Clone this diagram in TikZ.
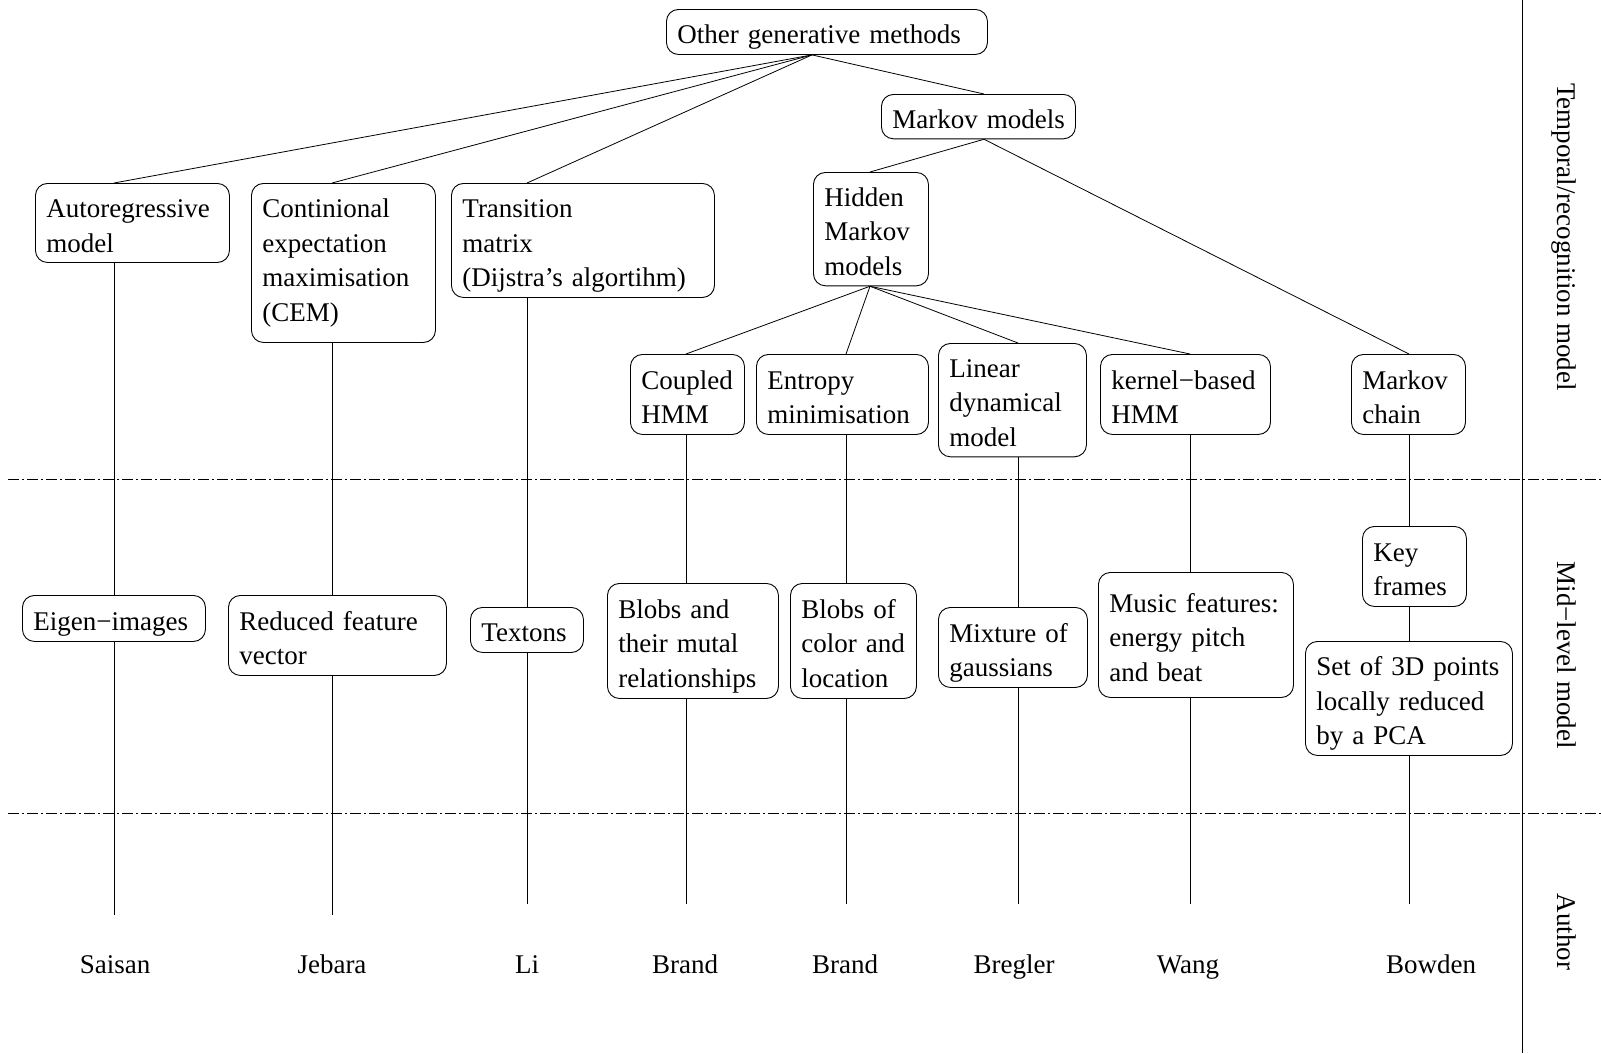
\documentclass[tikz,border=0pt]{standalone}
\usepackage{fontspec}
\setmainfont{Liberation Serif}
% left-aligned stack of lines that never re-wraps, with a little extra room above
\newcommand\boxlines[1]{\begin{tabular}{@{}l@{}}\rule{0pt}{34pt}#1\end{tabular}}
\begin{document}
\begin{tikzpicture}[x=1pt,y=-1pt,
  every node/.style={font=\fontsize{27}{34.5}\selectfont},
  bx/.style 2 args={draw, line width=0.9pt, rounded corners=12pt, anchor=north west,
    inner xsep=11pt, inner ysep=0pt, align=left, text width=#1, minimum height=#2},
  link/.style={line width=0.8pt},
  level/.style={line width=0.8pt, dash pattern=on 11pt off 3pt on 2pt off 3pt},
  author/.style={anchor=base},
  side/.style={rotate=-90, anchor=base}]
\useasboundingbox (0,0) rectangle (1601,1053);

% column positions of the vertical links
\coordinate (gx) at (812,0);
\coordinate (mx) at (984,0);
\coordinate (hx) at (870,0);
\coordinate (c1) at (114,0);
\coordinate (c2) at (332,0);
\coordinate (c3) at (527,0);
\coordinate (c4) at (686,0);
\coordinate (c5) at (846,0);
\coordinate (c6) at (1018,0);
\coordinate (c7) at (1190,0);
\coordinate (c8) at (1409,0);

% level separators and side column rule
\draw[level] (8,479) -- (1601,479);
\draw[level] (8,813) -- (1601,813);
\draw[link] (1522,0) -- (1522,1053);

% temporal / recognition models
\node[bx={299pt}{45pt}] (top) at (666,9) {\boxlines{Other generative methods}};
\node[bx={172pt}{43pt}] (markov) at (881,94) {\boxlines{Markov models}};
\node[bx={172pt}{79pt}] (auto) at (35,183) {\boxlines{Autoregressive\\model}};
\node[bx={162pt}{159pt}] (cem) at (251,183) {\boxlines{Continional\\expectation\\maximisation\\(CEM)\rule[-21pt]{0pt}{0pt}}};
\node[bx={241pt}{114pt}] (trans) at (451,183) {\boxlines{Transition\\matrix\\(Dijstra's algortihm)}};
\node[bx={93pt}{113pt}] (hmm) at (813,172) {\boxlines{Hidden\\Markov\\models}};
\node[bx={92pt}{80pt}] (coupled) at (630,354) {\boxlines{Coupled\\HMM}};
\node[bx={150pt}{80pt}] (entropy) at (756,354) {\boxlines{Entropy\\minimisation}};
\node[bx={126pt}{113pt}] (linear) at (938,343) {\boxlines{Linear\\dynamical\\model}};
\node[bx={148pt}{80pt}] (kernel) at (1100,354) {\boxlines{kernel−based\\HMM}};
\node[bx={92pt}{80pt}] (mchain) at (1351,354) {\boxlines{Markov\\chain}};

% mid-level models
\node[bx={161pt}{46pt}] (eigen) at (22,595) {\boxlines{Eigen−images}};
\node[bx={196pt}{80pt}] (reduced) at (228,595) {\boxlines{Reduced feature\\vector}};
\node[bx={91pt}{45pt}] (textons) at (470,607) {\boxlines{Textons}};
\node[bx={149pt}{115pt}] (blobsa) at (607,583) {\boxlines{Blobs and\\their mutal\\relationships}};
\node[bx={104pt}{115pt}] (blobsb) at (790,583) {\boxlines{Blobs of\\color and\\location}};
\node[bx={127pt}{80pt}] (mixture) at (938,607) {\boxlines{Mixture of\\gaussians}};
\node[bx={173pt}{125pt}] (music) at (1098,572) {\boxlines{Music features:\\energy pitch\\and beat}};
\node[bx={82pt}{80pt}] (keyframes) at (1362,526) {\boxlines{Key\\frames}};
\node[bx={185pt}{114pt}] (points) at (1305,641) {\boxlines{Set of 3D points\\locally reduced\\by a PCA}};

% free ends of the author columns
\coordinate (e1) at (114,915);
\coordinate (e2) at (332,915);
\coordinate (e3) at (527,904);
\coordinate (e4) at (686,904);
\coordinate (e5) at (846,904);
\coordinate (e6) at (1018,904);
\coordinate (e7) at (1190,904);
\coordinate (e8) at (1409,904);

% authors
\node[author] (s1) at (115,973) {Saisan};
\node[author] (s2) at (332,973) {Jebara};
\node[author] (s3) at (527,973) {Li};
\node[author] (s4) at (685,973) {Brand};
\node[author] (s5) at (845,973) {Brand};
\node[author] (s6) at (1014,973) {Bregler};
\node[author] (s7) at (1188,973) {Wang};
\node[author] (s8) at (1431,973) {Bowden};

% side labels
\node[side] (lt) at (1557,237) {Temporal/recognition model};
\node[side] (lm) at (1557,655) {Mid−level model};
\node[side] (la) at (1557,932) {Author};

% tree links
\draw[link] (top.south -| gx) -- (auto.north -| c1);
\draw[link] (top.south -| gx) -- (cem.north -| c2);
\draw[link] (top.south -| gx) -- (trans.north -| c3);
\draw[link] (top.south -| gx) -- (markov.north -| mx);
\draw[link] (markov.south -| mx) -- (hmm.north -| hx);
\draw[link] (markov.south -| mx) -- (mchain.north -| c8);
\draw[link] (hmm.south -| hx) -- (coupled.north -| c4);
\draw[link] (hmm.south -| hx) -- (entropy.north -| c5);
\draw[link] (hmm.south -| hx) -- (linear.north -| c6);
\draw[link] (hmm.south -| hx) -- (kernel.north -| c7);

% vertical links through the mid-level boxes
\draw[link] (auto.south -| c1) -- (eigen.north -| c1);
\draw[link] (eigen.south -| c1) -- (e1);
\draw[link] (cem.south -| c2) -- (reduced.north -| c2);
\draw[link] (reduced.south -| c2) -- (e2);
\draw[link] (trans.south -| c3) -- (textons.north -| c3);
\draw[link] (textons.south -| c3) -- (e3);
\draw[link] (coupled.south -| c4) -- (blobsa.north -| c4);
\draw[link] (blobsa.south -| c4) -- (e4);
\draw[link] (entropy.south -| c5) -- (blobsb.north -| c5);
\draw[link] (blobsb.south -| c5) -- (e5);
\draw[link] (linear.south -| c6) -- (mixture.north -| c6);
\draw[link] (mixture.south -| c6) -- (e6);
\draw[link] (kernel.south -| c7) -- (music.north -| c7);
\draw[link] (music.south -| c7) -- (e7);
\draw[link] (mchain.south -| c8) -- (keyframes.north -| c8);
\draw[link] (keyframes.south -| c8) -- (points.north -| c8);
\draw[link] (points.south -| c8) -- (e8);
\end{tikzpicture}
\end{document}
